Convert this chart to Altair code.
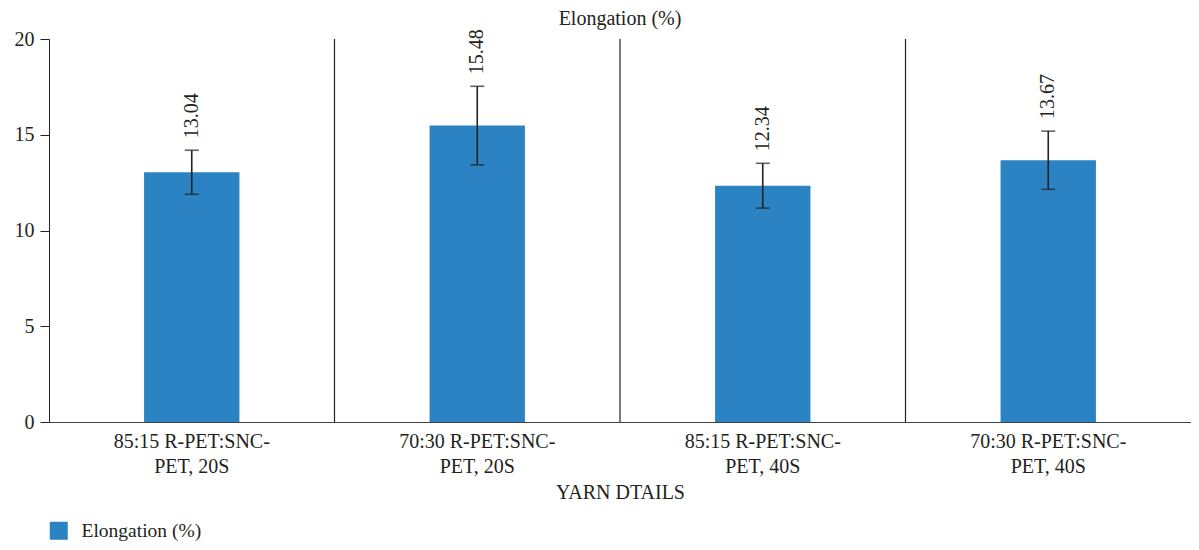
import altair as alt
import pandas as pd

categories = ["85:15 R-PET:SNC-|PET, 20S", "70:30 R-PET:SNC-|PET, 20S",
              "85:15 R-PET:SNC-|PET, 40S", "70:30 R-PET:SNC-|PET, 40S"]
values = [13.04, 15.48, 12.34, 13.67]
errors = [1.15, 2.05, 1.17, 1.52]
series_name = "Elongation (%)"
y_ticks = [0, 5, 10, 15, 20]

df = pd.DataFrame({
    "cat": categories,
    "val": values,
    "lo": [v - e for v, e in zip(values, errors)],
    "hi": [v + e for v, e in zip(values, errors)],
    "series": [series_name] * len(categories),
})
sep_df = pd.DataFrame({"cat": categories[1:]})

FONT = "Liberation Serif"
TXT = "#231F20"
BLUE = "#2C83C3"

xscale = alt.Scale(domain=categories, paddingInner=0, paddingOuter=0)
yscale = alt.Scale(domain=[0, 20], nice=False)

x_axis = alt.Axis(title="YARN DTAILS", labelAngle=0, ticks=False,
                  bandPosition=0.5, labelAlign="center",
                  labelExpr="split(datum.label, '|')",
                  labelLineHeight=25, labelPadding=9,
                  labelFontSize=20, titleFontSize=20,
                  titleFontWeight="normal", titlePadding=6,
                  domainColor="#444", labelColor=TXT, titleColor=TXT,
                  labelFont=FONT, titleFont=FONT, grid=False)

base = alt.Chart(df)

bars = base.mark_bar(width={"band": 0.334}).encode(
    x=alt.X("cat:N", scale=xscale, sort=categories, axis=x_axis),
    y=alt.Y("val:Q", scale=yscale,
            axis=alt.Axis(title=None, values=y_ticks, tickSize=9, labelPadding=6,
                          labelFontSize=20, labelFont=FONT, labelColor=TXT,
                          domainColor="#222", tickColor="#222", grid=False)),
    color=alt.Color("series:N", scale=alt.Scale(range=[BLUE]),
                    legend=alt.Legend(title=None, orient="none", legendX=0, legendY=482,
                                      symbolType="square", symbolSize=324,
                                      symbolStrokeWidth=0, labelFontSize=19.5,
                                      labelFont=FONT, labelColor=TXT, labelOffset=13)),
)

seps = alt.Chart(sep_df).mark_rule(color="#222", strokeWidth=1.2).encode(
    x=alt.X("cat:N", scale=xscale, sort=categories, bandPosition=0, axis=x_axis),
    y=alt.datum(0),
    y2=alt.datum(20),
)

err_rule = base.mark_rule(color="#222", strokeWidth=1.6).encode(
    x=alt.X("cat:N", scale=xscale, sort=categories, axis=x_axis),
    y=alt.Y("lo:Q", scale=yscale),
    y2="hi:Q",
)
cap_lo = base.mark_tick(color="#222", size=14, thickness=1.6).encode(
    x=alt.X("cat:N", scale=xscale, sort=categories, axis=x_axis),
    y=alt.Y("lo:Q", scale=yscale),
)
cap_hi = base.mark_tick(color="#222", size=14, thickness=1.6).encode(
    x=alt.X("cat:N", scale=xscale, sort=categories, axis=x_axis),
    y=alt.Y("hi:Q", scale=yscale),
)
labels = base.mark_text(angle=270, align="left", baseline="middle", dx=12,
                        font=FONT, fontSize=20, color=TXT).encode(
    x=alt.X("cat:N", scale=xscale, sort=categories, axis=x_axis),
    y=alt.Y("hi:Q", scale=yscale),
    text=alt.Text("val:Q", format=".2f"),
)

chart = alt.layer(bars, seps, err_rule, cap_lo, cap_hi, labels).properties(
    width=1142, height=383,
    title=alt.TitleParams("Elongation (%)", font=FONT, fontSize=20, fontWeight="normal",
                          color=TXT, anchor="middle", offset=0),
    autosize=alt.AutoSizeParams(type="none"),
    padding={"left": 41, "top": 31, "right": 0, "bottom": 120},
).configure_view(stroke=None)

chart.save("out.html", embed_options={"renderer": "svg", "actions": False})
